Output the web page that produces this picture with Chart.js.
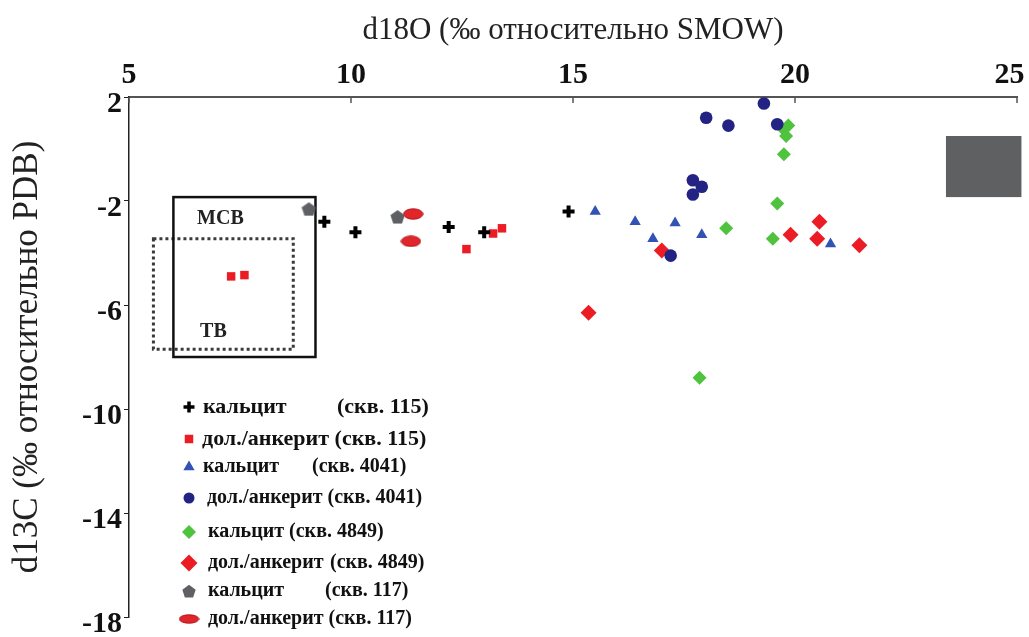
<!DOCTYPE html>
<html>
<head>
<meta charset="utf-8">
<script src="https://cdn.jsdelivr.net/npm/chart.js@4.4.1/dist/chart.umd.min.js"></script>
<style>
  html, body { margin: 0; padding: 0; background: #fff; }
  #wrap { width: 1029px; height: 637px; position: relative; }
</style>
</head>
<body>
<div id="wrap"><canvas id="isoChart"></canvas></div>
<script>
// [d18O, d13C] pairs
const calcite115 = [[9.4, -2.8], [10.1, -3.2], [12.2, -3.0], [13.0, -3.2], [14.9, -2.4]];
const dolomite115 = [[7.3, -4.9], [7.6, -4.85], [12.6, -3.85], [13.2, -3.25], [13.4, -3.05]];
const calcite4041 = [[15.5, -2.4], [16.4, -2.8], [17.3, -2.85], [16.8, -3.45], [17.9, -3.3], [20.8, -3.65]];
const dolomite4041 = [[19.3, 1.75], [18.0, 1.2], [18.5, 0.9], [19.6, 0.95], [17.7, -1.2], [17.9, -1.45], [17.7, -1.75], [17.2, -4.1]];
const calcite4849 = [[19.85, 0.9], [19.75, 0.75], [19.8, 0.5], [19.75, -0.2], [19.6, -2.1], [18.45, -3.05], [19.5, -3.45], [17.85, -8.8]];
const dolomite4849 = [[20.55, -2.8], [19.9, -3.3], [20.5, -3.45], [21.45, -3.7], [17.0, -3.9], [15.35, -6.3]];
const calcite117 = [[9.05, -2.3], [11.05, -2.6]];
const dolomite117 = [[11.4, -2.5], [11.35, -3.55]];

const mineralNames = ['кальцит', 'дол./анкерит', 'кальцит', 'дол./анкерит', 'кальцит', 'дол./анкерит', 'кальцит', 'дол./анкерит'];
const wellNames = ['скв. 115', 'скв. 115', 'скв. 4041', 'скв. 4041', 'скв. 4849', 'скв. 4849', 'скв. 117', 'скв. 117'];

const xTickValues = [5, 10, 15, 20, 25];
const yTickValues = [2, -2, -6, -10, -14, -18];

// fields: [x from, x to, y top, y bottom]
const mcbBox = [6.0, 9.2, -1.85, -8.0];
const tbBox = [5.55, 8.7, -3.45, -7.7];
const greyBlock = [23.4, 25.1, 0.5, -1.85];

function pentagon(size, color) {
    const c = document.createElement('canvas');
    c.width = c.height = size;
    const g = c.getContext('2d');
    g.fillStyle = color;
    g.beginPath();
    for (let i = 0; i < 5; i++) {
        const a = -Math.PI / 2 + i * 2 * Math.PI / 5;
        g.lineTo(size / 2 + size / 2 * Math.cos(a), size / 2 + size / 2 * Math.sin(a) + size * 0.06);
    }
    g.closePath();
    g.fill();
    return c;
}

function ellipse(w, h, color) {
    const c = document.createElement('canvas');
    c.width = w; c.height = h;
    const g = c.getContext('2d');
    g.fillStyle = color;
    g.strokeStyle = '#b3151b';
    g.lineWidth = 1;
    g.beginPath();
    g.ellipse(w / 2, h / 2, w / 2 - 0.8, h / 2 - 0.8, 0, 0, Math.PI * 2);
    g.fill();
    g.stroke();
    return c;
}

const pentImg = pentagon(15, '#5f6063');
const ovalImg = ellipse(21, 12, '#e1262b');
const pentSmall = pentagon(14, '#5f6063');
const ovalSmall = ellipse(21, 10, '#e1262b');

const toPts = arr => arr.map(p => ({ x: p[0], y: p[1] }));

const series = [
    { data: calcite115, style: 'cross', color: '#000', radius: 6, bw: 4, lr: 5.5, lbw: 3.5 },
    { data: dolomite115, style: 'rect', color: '#ec1c24', radius: 6, bw: 0, lr: 6, lbw: 0 },
    { data: calcite4041, style: 'triangle', color: '#3252b4', radius: 6.5, bw: 0, lr: 6.5, lbw: 0 },
    { data: dolomite4041, style: 'circle', color: '#232383', radius: 6.3, bw: 0, lr: 5.5, lbw: 0 },
    { data: calcite4849, style: 'rectRot', color: '#4fc23e', radius: 7, bw: 0, lr: 7, lbw: 0 },
    { data: dolomite4849, style: 'rectRot', color: '#ec1c24', radius: 8, bw: 0, lr: 8.5, lbw: 0 },
    { data: calcite117, style: pentImg, legendStyle: pentSmall, color: '#5f6063', radius: 7, bw: 0, lr: 6, lbw: 0 },
    { data: dolomite117, style: ovalImg, legendStyle: ovalSmall, color: '#e1262b', radius: 8, bw: 0, lr: 8, lbw: 0 }
];

// hand-placed legend rows, as in the figure (the rows were pasted at slightly different sizes)
const legendY = [407, 439, 467, 498, 532, 563, 591, 619];
const legendTextX = [203, 202, 203, 207, 208, 208, 208, 208];
const legendWellX = [337, null, 312, null, null, 330, 325, null];
const legendFont = [22, 22, 20, 20, 20, 20, 20, 20];

const overlayPlugin = {
    id: 'overlay',
    beforeDatasetsDraw(chart) {
        const { ctx, scales: { x, y } } = chart;
        ctx.save();
        // grey block on the right
        const gx = x.getPixelForValue(greyBlock[0]), gy = y.getPixelForValue(greyBlock[2]);
        ctx.fillStyle = '#5f6062';
        ctx.fillRect(gx, gy, x.getPixelForValue(greyBlock[1]) - gx, y.getPixelForValue(greyBlock[3]) - gy);

        // TB dotted field
        let bx = x.getPixelForValue(tbBox[0]), by = y.getPixelForValue(tbBox[2]);
        ctx.setLineDash([3, 3]);
        ctx.lineWidth = 3;
        ctx.strokeStyle = '#3a3a3a';
        ctx.strokeRect(bx, by, x.getPixelForValue(tbBox[1]) - bx, y.getPixelForValue(tbBox[3]) - by);

        // MCB solid field
        bx = x.getPixelForValue(mcbBox[0]); by = y.getPixelForValue(mcbBox[2]);
        ctx.setLineDash([]);
        ctx.lineWidth = 2.5;
        ctx.strokeStyle = '#111';
        ctx.strokeRect(bx, by, x.getPixelForValue(mcbBox[1]) - bx, y.getPixelForValue(mcbBox[3]) - by);

        ctx.fillStyle = '#222';
        ctx.font = 'bold 20px "Liberation Serif"';
        ctx.textAlign = 'center';
        ctx.textBaseline = 'middle';
        ctx.fillText('МСВ', bx + 47, by + 22);
        ctx.fillText('ТВ', x.getPixelForValue(tbBox[0]) + 60, y.getPixelForValue(tbBox[3]) - 17);
        ctx.restore();
    },
    afterDraw(chart) {
        const { ctx, scales: { x, y } } = chart;
        ctx.save();
        // inward ticks on the top axis
        ctx.strokeStyle = '#555';
        ctx.lineWidth = 1.5;
        x.ticks.forEach(t => {
            const px = x.getPixelForValue(t.value);
            ctx.beginPath();
            ctx.moveTo(px, y.top);
            ctx.lineTo(px, y.top + 6);
            ctx.stroke();
        });

        // legend
        ctx.textBaseline = 'middle';
        ctx.textAlign = 'left';
        series.forEach((s, i) => {
            ctx.fillStyle = s.color;
            ctx.strokeStyle = s.color;
            ctx.lineWidth = s.lbw;
            Chart.helpers.drawPoint(ctx, {
                pointStyle: s.legendStyle || s.style,
                radius: s.lr,
                rotation: 0,
                borderWidth: s.lbw
            }, 189, legendY[i]);
            ctx.font = 'bold ' + legendFont[i] + 'px "Liberation Serif"';
            ctx.fillStyle = '#111';
            const well = '(' + wellNames[i] + ')';
            if (legendWellX[i] !== null) {
                ctx.fillText(mineralNames[i], legendTextX[i], legendY[i]);
                ctx.fillText(well, legendWellX[i], legendY[i]);
            } else {
                ctx.fillText(mineralNames[i] + ' ' + well, legendTextX[i], legendY[i]);
            }
        });
        ctx.restore();
    }
};

Chart.defaults.font.family = '"Liberation Serif", "Times New Roman", serif';
Chart.defaults.color = '#111';

const ctx = document.getElementById('isoChart').getContext('2d');
new Chart(ctx, {
    type: 'scatter',
    data: {
        datasets: series.map((s, i) => ({
            label: mineralNames[i] + ' (' + wellNames[i] + ')',
            data: toPts(s.data),
            pointStyle: s.style,
            pointRadius: s.radius,
            pointHoverRadius: s.radius,
            backgroundColor: s.color,
            borderColor: s.color,
            borderWidth: s.bw
        }))
    },
    options: {
        responsive: true,
        maintainAspectRatio: false,
        animation: false,
        layout: { padding: { left: 0, right: 12, top: 0, bottom: 11 } },
        plugins: {
            legend: { display: false },
            tooltip: { enabled: false }
        },
        scales: {
            x: {
                type: 'linear',
                position: 'top',
                min: 5,
                max: 25,
                afterBuildTicks: scale => { scale.ticks = xTickValues.map(v => ({ value: v })); },
                afterFit: scale => { scale.height = 97; scale.paddingLeft = 0; scale.paddingRight = 0; },
                grid: { display: true, drawOnChartArea: false, drawTicks: false },
                border: { display: true, color: '#555', width: 2 },
                ticks: {
                    padding: 4,
                    font: { size: 30, weight: 'bold' },
                    color: '#111',
                    // the last label is pulled in a little so it stays on the page
                    callback: v => v === 25 ? '25\u00a0\u00a0' : String(v)
                },
                title: {
                    display: true,
                    text: 'd18O (‰ относительно SMOW)',
                    font: { size: 31 },
                    color: '#222',
                    padding: { top: 12, bottom: 0 }
                }
            },
            y: {
                type: 'linear',
                min: -18,
                max: 2,
                afterBuildTicks: scale => { scale.ticks = yTickValues.map(v => ({ value: v })); },
                afterFit: scale => { scale.width = 129; },
                grid: { display: true, drawOnChartArea: false, drawTicks: true, tickLength: 5, color: '#222' },
                border: { display: true, color: '#222', width: 1.5 },
                ticks: {
                    padding: 2,
                    labelOffset: 7,
                    font: { size: 30, weight: 'bold' },
                    color: '#111'
                },
                title: {
                    display: true,
                    text: 'd13C (‰ относительно PDB)',
                    font: { size: 35 },
                    color: '#222',
                    padding: { top: 7, bottom: 0 }
                }
            }
        }
    },
    plugins: [overlayPlugin]
});
</script>
</body>
</html>
